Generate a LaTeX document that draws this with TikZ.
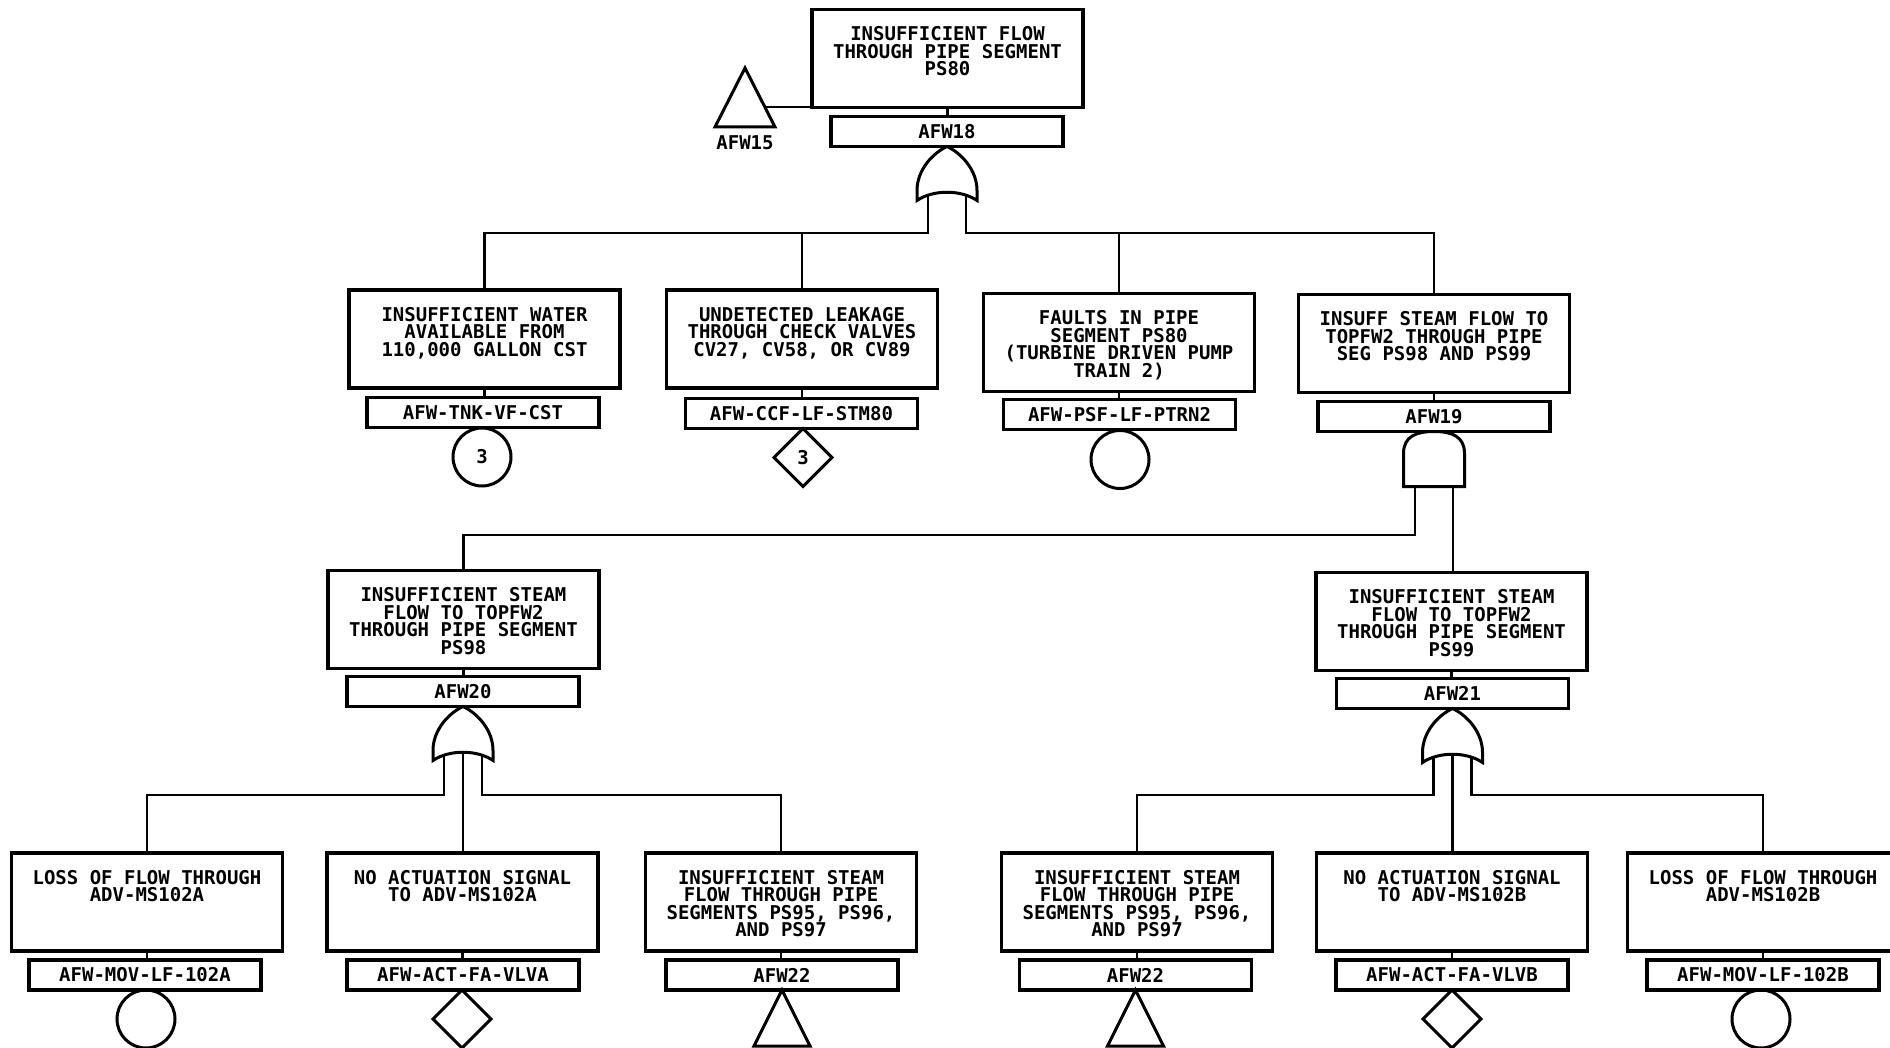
\documentclass[tikz,border=0pt]{standalone}
\usepackage{fontspec}
\setmonofont{DejaVu Sans Mono}
\usetikzlibrary{shapes.geometric,calc}
\newcommand{\evfont}{\ttfamily\bfseries\fontsize{19pt}{17.5pt}\selectfont}
\newcommand{\evt}[1]{\parbox[c][98pt][t]{271pt}{\centering\vspace*{17pt}#1\par}}
\begin{document}
\begin{tikzpicture}[x=1pt,y=-1pt,
  evbox/.style={draw, line width=3.2pt, inner sep=0pt, outer sep=0pt, font=\evfont},
  idbox/.style={draw, line width=3.2pt, inner sep=0pt, outer sep=0pt, minimum width=232pt, minimum height=30pt, font=\evfont},
  conn/.style={line width=2.8pt},
  symline/.style={line width=3pt, line join=miter},
  sym/.style={draw, line width=3pt, inner sep=0pt, outer sep=0pt, font=\evfont},
  basic/.style={sym, circle, minimum size=58pt},
  undev/.style={sym, diamond, minimum width=58pt, minimum height=58pt},
  orgate/.pic={
    \draw[symline] (0,0) .. controls (15,7) and (30,24) .. (30,44) -- (30,54)
       .. controls (14,43) and (-14,43) .. (-30,54) -- (-30,44)
       .. controls (-30,24) and (-15,7) .. (0,0) -- cycle;
    \coordinate (-ll) at (-19,48.7);
    \coordinate (-lr) at (19,48.7);
    \coordinate (-c) at (0,45.75);
  },
  andgate/.pic={
    \draw[symline] (-30.5,55) -- (-30.5,22) .. controls (-30.5,5) and (-18,0) .. (0,0)
       .. controls (18,0) and (30.5,5) .. (30.5,22) -- (30.5,55) -- cycle;
    \coordinate (-ll) at (-19,55);
    \coordinate (-lr) at (19,55);
  }
]
\useasboundingbox (0,0) rectangle (1890,1048);
\fill[white] (0,0) rectangle (1890,1048);

% bus coordinates
\coordinate (bus1) at (0,233);
\coordinate (bus2) at (0,535);
\coordinate (bus3) at (0,795);

% top event
\node[evbox] (T) at (947.5,58.5) {\evt{INSUFFICIENT FLOW\\THROUGH PIPE SEGMENT\\PS80}};
\node[idbox] (idT) at (947,131.5) {AFW18};
\draw[conn] (T.south) -- (T.south |- idT.north);
\draw[symline] (745,68) -- (775,127) -- (715,127) -- cycle;
\coordinate (tri15) at (764.8,107);
\draw[conn] (tri15) -- (tri15 -| T.west);
\node[font=\evfont, inner sep=0pt] (l15) at (745,143) {AFW15};
\pic (g1) at (947,146.5) {orgate};

% level 2
\node[evbox] (b1) at (484.5,339) {\evt{INSUFFICIENT WATER\\AVAILABLE FROM\\110,000 GALLON CST}};
\node[idbox] (id1) at (483,412.5) {AFW-TNK-VF-CST};
\node[basic] (c1) at (482,457) {3};
\node[evbox] (b2) at (802,339) {\evt{UNDETECTED LEAKAGE\\THROUGH CHECK VALVES\\CV27, CV58, OR CV89}};
\node[idbox] (id2) at (801.5,413.5) {AFW-CCF-LF-STM80};
\node[undev] (d2) at (803,457.5) {3};
\node[evbox] (b3) at (1119,342.5) {\evt{FAULTS IN PIPE\\SEGMENT PS80\\(TURBINE DRIVEN PUMP\\TRAIN 2)}};
\node[idbox] (id3) at (1119.5,414.5) {AFW-PSF-LF-PTRN2};
\node[basic] (c3) at (1120,459.5) {};
\node[evbox] (b4) at (1434,343.5) {\evt{INSUFF STEAM FLOW TO\\TOPFW2 THROUGH PIPE\\SEG PS98 AND PS99}};
\node[idbox] (id4) at (1434,416.5) {AFW19};
\pic (g4) at (1434,431.5) {andgate};

\draw[conn] (g1-ll) |- (bus1 -| b1.north) -- (b1.north);
\draw[conn] (bus1 -| b2.north) -- (b2.north);
\draw[conn] (g1-lr) |- (bus1 -| b4.north) -- (b4.north);
\draw[conn] (bus1 -| b3.north) -- (b3.north);
\foreach \b/\i in {b1/id1,b2/id2,b3/id3,b4/id4}{
  \draw[conn] (\b.south) -- (\b.south |- \i.north);
}

% level 3
\node[evbox] (b5) at (463.5,619.5) {\evt{INSUFFICIENT STEAM\\FLOW TO TOPFW2\\THROUGH PIPE SEGMENT\\PS98}};
\node[idbox] (id5) at (463,691.5) {AFW20};
\pic (g2) at (463,706.5) {orgate};
\node[evbox] (b6) at (1451.5,621.5) {\evt{INSUFFICIENT STEAM\\FLOW TO TOPFW2\\THROUGH PIPE SEGMENT\\PS99}};
\node[idbox] (id6) at (1452.5,693.5) {AFW21};
\pic (g3) at (1452.5,708.5) {orgate};

\draw[conn] (g4-ll) |- (bus2 -| b5.north) -- (b5.north);
\draw[conn] (g4-lr) -- (g4-lr |- b6.north);
\draw[conn] (b5.south) -- (b5.south |- id5.north);
\draw[conn] (b6.south) -- (b6.south |- id6.north);

% level 4
\node[evbox] (l1) at (147,902) {\evt{LOSS OF FLOW THROUGH\\ADV-MS102A}};
\node[idbox] (idl1) at (145,975) {AFW-MOV-LF-102A};
\node[basic] (cl1) at (146,1019) {};
\node[evbox] (l2) at (462.5,902) {\evt{NO ACTUATION SIGNAL\\TO ADV-MS102A}};
\node[idbox] (idl2) at (463,975) {AFW-ACT-FA-VLVA};
\node[undev] (dl2) at (462,1019) {};
\node[evbox] (l3) at (781,902) {\evt{INSUFFICIENT STEAM\\FLOW THROUGH PIPE\\SEGMENTS PS95, PS96,\\AND PS97}};
\node[idbox] (idl3) at (782,975) {AFW22};
\draw[symline] (idl3.south) -- ++(28,56) -- ++(-56,0) -- cycle;

\node[evbox] (r1) at (1137,902) {\evt{INSUFFICIENT STEAM\\FLOW THROUGH PIPE\\SEGMENTS PS95, PS96,\\AND PS97}};
\node[idbox] (idr1) at (1135.5,975) {AFW22};
\draw[symline] (idr1.south) -- ++(28,56) -- ++(-56,0) -- cycle;
\node[evbox] (r2) at (1452,902) {\evt{NO ACTUATION SIGNAL\\TO ADV-MS102B}};
\node[idbox] (idr2) at (1452,975) {AFW-ACT-FA-VLVB};
\node[undev] (dr2) at (1452,1019) {};
\node[evbox] (r3) at (1763,902) {\evt{LOSS OF FLOW THROUGH\\ADV-MS102B}};
\node[idbox] (idr3) at (1763,975) {AFW-MOV-LF-102B};
\node[basic] (cr3) at (1761,1019) {};

\draw[conn] (g2-ll) |- (bus3 -| l1.north) -- (l1.north);
\draw[conn] (g2-c) -- (g2-c |- l2.north);
\draw[conn] (g2-lr) |- (bus3 -| l3.north) -- (l3.north);
\draw[conn] (g3-ll) |- (bus3 -| r1.north) -- (r1.north);
\draw[conn] (g3-c) -- (g3-c |- r2.north);
\draw[conn] (g3-lr) |- (bus3 -| r3.north) -- (r3.north);
\foreach \b/\i in {l1/idl1,l2/idl2,l3/idl3,r1/idr1,r2/idr2,r3/idr3}{
  \draw[conn] (\b.south) -- (\b.south |- \i.north);
}
\end{tikzpicture}
\end{document}
